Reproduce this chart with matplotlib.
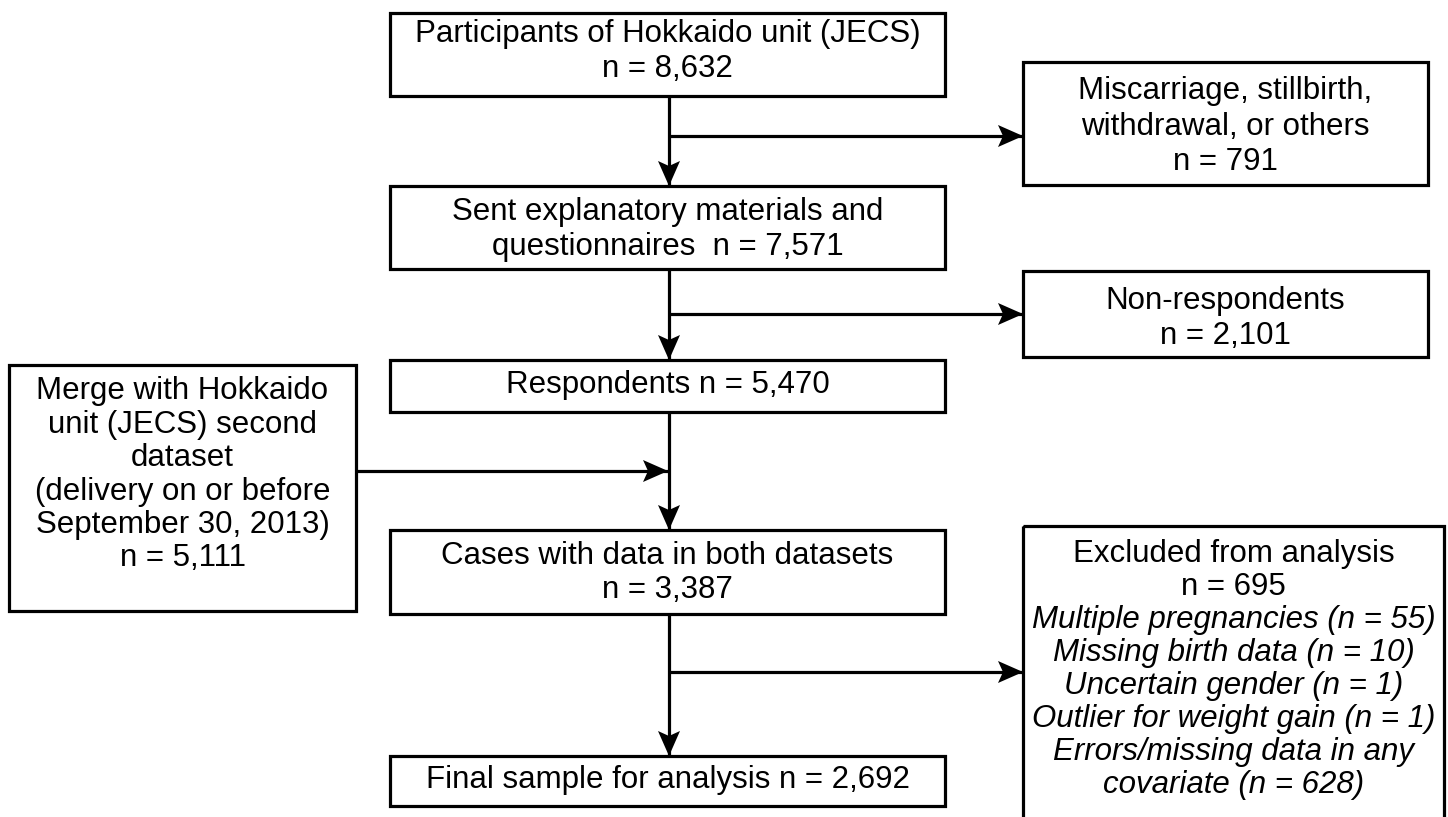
import matplotlib.pyplot as plt
from matplotlib.patches import Rectangle, Polygon

plt.rcParams['font.family'] = ['Liberation Sans', 'DejaVu Sans']

# counts shown in the flow chart
n_participants = 8632
n_lost = 791
n_sent = 7571
n_nonresp = 2101
n_resp = 5470
n_second = 5111
n_both = 3387
n_excluded = 695
reasons = ["Multiple pregnancies", "Missing birth data", "Uncertain gender",
           "Outlier for weight gain", "Errors/missing data in any\ncovariate"]
reason_n = [55, 10, 1, 1, 628]
n_final = 2692

W, H = 1448, 817
LW = 2.3
FS = 22.5
MAIN_X = 669


def box(ax, x0, y0, x1, y1, lines, first_y, step=33.5, italic_from=None):
    ax.add_patch(Rectangle((x0, y0), x1 - x0, y1 - y0, fill=False,
                           edgecolor='black', lw=LW, zorder=2))
    cx = (x0 + x1) / 2
    for i, t in enumerate(lines):
        style = 'italic' if italic_from is not None and i >= italic_from else 'normal'
        ax.text(cx, first_y + i * step, t, ha='center', va='center',
                fontsize=FS, style=style, zorder=3)


def arrow(ax, x0, y0, x1, y1):
    ax.plot([x0, x1], [y0, y1], color='black', lw=LW, solid_capstyle='butt', zorder=1)
    L, hw, notch = 25, 11, 5
    dx, dy = x1 - x0, y1 - y0
    d = (dx ** 2 + dy ** 2) ** 0.5
    ux, uy = dx / d, dy / d
    px, py = -uy, ux
    bx, by = x1 - ux * L, y1 - uy * L
    pts = [(x1, y1), (bx + px * hw, by + py * hw),
           (bx + ux * notch, by + uy * notch), (bx - px * hw, by - py * hw)]
    ax.add_patch(Polygon(pts, closed=True, color='black', lw=0, zorder=2))


fig = plt.figure(figsize=(W / 100, H / 100), dpi=100)
ax = fig.add_axes([0, 0, 1, 1])
ax.set_xlim(0, W)
ax.set_ylim(H, 0)
ax.axis('off')

# main column
box(ax, 390, 13, 945, 96,
    ["Participants of Hokkaido unit (JECS)", f"n = {n_participants:,}"], 34, step=35)
box(ax, 390, 186, 945, 269,
    ["Sent explanatory materials and", f"questionnaires  n = {n_sent:,}"], 212, step=34.5)
box(ax, 390, 360, 945, 412, [f"Respondents n = {n_resp:,}"], 385)
box(ax, 390, 530, 945, 614,
    ["Cases with data in both datasets", f"n = {n_both:,}"], 556, step=34)
box(ax, 390, 756, 945, 806, [f"Final sample for analysis n = {n_final:,}"], 780)

# side boxes
box(ax, 1023, 62, 1428, 185,
    ["Miscarriage, stillbirth,", "withdrawal, or others", f"n = {n_lost}"], 91, step=35.5)
box(ax, 1023, 271, 1428, 357, ["Non-respondents", f"n = {n_nonresp:,}"], 301, step=35)
box(ax, 9, 365, 356, 611,
    ["Merge with Hokkaido", "unit (JECS) second", "dataset",
     "(delivery on or before", "September 30, 2013)", f"n = {n_second:,}"], 391)
excl_lines = ["Excluded from analysis", f"n = {n_excluded}"]
for r, n in zip(reasons, reason_n):
    parts = r.split("\n")
    parts[-1] = parts[-1] + f" (n = {n})"
    excl_lines += parts
box(ax, 1023, 526, 1444, 840, excl_lines, 554, step=33, italic_from=2)

# arrows
arrow(ax, MAIN_X, 96, MAIN_X, 186)
arrow(ax, MAIN_X, 136, 1023, 136)
arrow(ax, MAIN_X, 269, MAIN_X, 360)
arrow(ax, MAIN_X, 314, 1023, 314)
arrow(ax, MAIN_X, 412, MAIN_X, 530)
arrow(ax, 356, 471, MAIN_X - 1, 471)
arrow(ax, MAIN_X, 614, MAIN_X, 756)
arrow(ax, MAIN_X, 672, 1023, 672)

fig.savefig('out.png', dpi=100, facecolor='white')
